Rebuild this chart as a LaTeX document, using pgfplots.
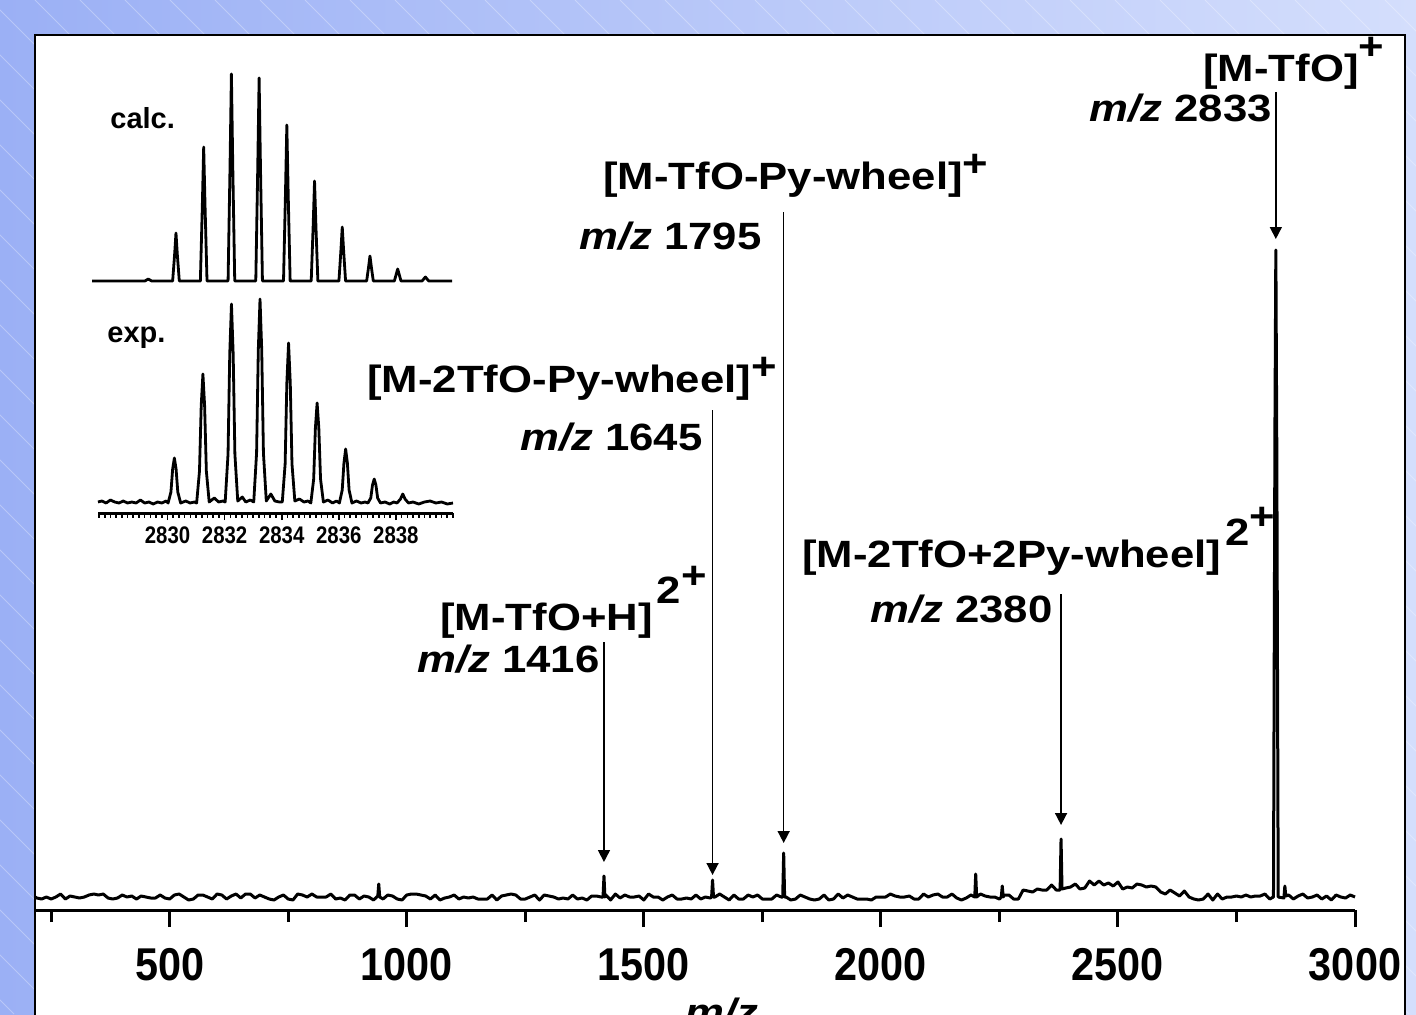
\documentclass[border=0pt]{standalone}
\usepackage{fontspec}
\setmainfont{Liberation Sans}
\newfontfamily\labfont{Liberation Sans}[FakeStretch=1.15]
\newfontfamily\tickfont{Liberation Sans}[FakeStretch=0.9]
\newfontfamily\insetfont{Liberation Sans}[FakeStretch=0.85]
\usepackage{pgfplots}
\pgfplotsset{compat=1.18}
\usetikzlibrary{arrows.meta}
\definecolor{bgleft}{RGB}{155,176,245}
\definecolor{bgright}{RGB}{212,222,252}

\newcommand{\lab}{\labfont\bfseries\fontsize{19}{19}\selectfont}
\newcommand{\mz}[1]{\textit{m/z}\ #1}

\begin{document}
\begin{tikzpicture}
\useasboundingbox (0,0) rectangle (708pt,507pt);
\clip (0,0) rectangle (708pt,507pt);
\shade[left color=bgleft, right color=bgright] (0,0) rectangle (708pt,507pt);
% pixel frame: (X,Y) as in the 1416x1014 picture
\begin{scope}[x=0.5pt,y=-0.5pt,shift={(0,507pt)}]
  \foreach \i in {-1000,-955,...,1416}
    \draw[white, opacity=0.3, line width=0.5pt] (\i,0) -- (\i+1014,1014);
  \fill[white] (35,35) rectangle (1405,1040);
\end{scope}

% main spectrum
\begin{axis}[
  at={(17.5pt,52pt)}, anchor=south west,
  scale only axis, width=660pt, height=437.5pt,
  xmin=216, xmax=3000, ymin=-13, ymax=862,
  axis x line*=bottom, axis y line=none,
  x axis line style={line width=1.5pt,-},
  xtick={500,1000,...,3000},
  minor xtick={250,750,...,2750},
  tick align=outside,
  major tick length=8.5pt, minor tick length=6pt,
  tick style={black,line width=1.5pt},
  xticklabel style={font=\tickfont\bfseries\fontsize{23}{23}\selectfont, yshift=-7pt},
  /pgf/number format/assume math mode=true,
  /pgf/number format/1000 sep={},
  clip=false,
]
\addplot[black, line width=1.5pt, line join=round] coordinates {
(216,0)(220,-1)(230,-2)(240,0)(250,-2)(260,0)(270,3)(280,-2)(290,1)(300,0)(310,-1)
(320,0)(330,2)(340,3)(350,2)(360,3)(370,-1)(380,-2)(390,-1)(400,2)(410,0)
(420,1)(430,-2)(440,1)(450,0)(460,-1)(470,-1)(480,2)(490,-1)(500,-2)(510,2)
(520,3)(530,0)(540,-3)(550,-2)(560,2)(570,2)(580,0)(590,-2)(600,3)(610,2)
(620,-2)(630,1)(640,3)(650,-1)(660,3)(670,3)(680,-1)(690,2)(700,0)(710,-2)
(720,-3)(730,0)(740,2)(750,-2)(760,-3)(770,3)(780,2)(790,0)(800,3)(810,0)
(820,0)(830,0)(840,3)(850,-2)(860,-1)(870,-3)(880,2)(890,2)(900,-2)(910,1)
(920,0)(930,-3)(939,1)(941,13)(943,0)(950,-2)(960,2)(970,1)(980,-2)(990,-3)
(1000,2)(1010,3)(1020,3)(1030,2)(1040,1)(1050,-2)(1060,2)(1070,-3)(1080,-1)(1090,0)
(1100,2)(1110,-2)(1120,0)(1130,-1)(1140,0)(1150,-2)(1160,-2)(1170,-2)(1180,2)(1190,-3)
(1200,1)(1210,2)(1220,3)(1230,2)(1240,-2)(1250,-2)(1260,0)(1270,2)(1280,-3)(1290,2)
(1300,1)(1310,0)(1320,-2)(1330,-1)(1340,-2)(1350,2)(1360,-2)(1370,-1)(1380,-3)(1390,1)
(1400,1)(1410,0)(1414,0)(1416,21)(1418,0)(1420,2)(1430,-3)(1440,3)(1450,-1)(1460,2)
(1470,0)(1480,0)(1490,1)(1500,-3)(1510,3)(1520,0)(1530,0)(1540,-3)(1550,0)(1560,2)
(1570,-2)(1580,-2)(1590,-1)(1600,-2)(1610,2)(1620,-2)(1630,0)(1640,-1)(1643,0)(1645,17)
(1647,0)(1650,0)(1660,3)(1670,0)(1680,-3)(1690,2)(1700,-2)(1710,-2)(1720,2)(1730,0)
(1740,2)(1750,-2)(1760,-2)(1770,-2)(1780,2)(1790,0)(1793,0)(1795,44)(1797,0)(1800,0)
(1810,-3)(1820,-2)(1830,2)(1840,0)(1850,-2)(1860,-3)(1870,-2)(1880,2)(1890,-3)(1900,-2)
(1910,3)(1920,-1)(1930,2)(1940,0)(1950,-2)(1960,-2)(1970,-2)(1980,-3)(1990,0)(2000,0)
(2010,0)(2020,3)(2030,1)(2040,0)(2050,0)(2060,1)(2070,-2)(2080,-2)(2090,3)(2100,0)
(2110,2)(2120,3)(2130,0)(2140,0)(2150,3)(2160,-1)(2170,-3)(2180,-1)(2190,2)(2198,0)
(2200,23)(2202,0)(2210,3)(2220,1)(2230,0)(2240,0)(2250,-2)(2254,0)(2256,11)(2258,0)
(2260,2)(2270,2)(2280,-2)(2290,-2)(2300,7)(2310,6)(2320,5)(2330,8)(2340,7)(2350,7)
(2360,12)(2370,7)(2378,7)(2380,58)(2382,8)(2390,9)(2400,10)(2410,13)(2420,8)(2430,9)
(2440,16)(2450,12)(2460,16)(2470,12)(2480,14)(2490,11)(2500,15)(2510,8)(2520,10)(2530,9)
(2540,13)(2550,12)(2560,10)(2570,11)(2580,10)(2590,5)(2600,3)(2610,7)(2620,4)(2630,1)
(2640,6)(2650,0)(2660,-2)(2670,-3)(2680,-2)(2690,3)(2700,-3)(2710,3)(2720,-2)(2730,0)
(2740,0)(2750,1)(2760,0)(2770,2)(2780,0)(2790,1)(2800,1)(2810,3)(2820,-2)(2828,0)
(2830,300)(2831,460)(2833,647)(2835,450)(2836,300)(2838,0)(2850,-1)(2852,11)(2854,1)(2860,2)
(2870,-2)(2880,1)(2890,3)(2900,-1)(2910,0)(2920,2)(2930,-2)(2940,1)(2950,-3)(2960,2)
(2970,0)(2980,-1)(2990,2)(3000,0)
};
\draw[-{Triangle[width=6pt,length=6pt]}, line width=0.8pt] (axis cs:1416,255) -- (axis cs:1416,35);
\draw[-{Triangle[width=6pt,length=6pt]}, line width=0.8pt] (axis cs:1645,487) -- (axis cs:1645,22);
\draw[-{Triangle[width=6pt,length=6pt]}, line width=0.8pt] (axis cs:1795,685) -- (axis cs:1795,54);
\draw[-{Triangle[width=6pt,length=6pt]}, line width=0.8pt] (axis cs:2380,303) -- (axis cs:2380,72);
\draw[-{Triangle[width=6pt,length=6pt]}, line width=0.8pt] (axis cs:2833,805) -- (axis cs:2833,658);
\end{axis}

% inset: calculated pattern
\begin{axis}[
  at={(46pt,366.5pt)}, anchor=south west,
  scale only axis, width=180pt, height=105pt,
  xmin=2827.27, xmax=2840.26, ymin=0, ymax=210,
  hide axis, clip=false,
]
\addplot[black, line width=1.4pt, line join=round] coordinates {
(2827.27,0)
(2829.18,0)(2829.3,2)(2829.42,0)
(2830.18,0)(2830.25,26)(2830.3,48)(2830.35,26)(2830.42,0)
(2831.18,0)(2831.25,74)(2831.3,134)(2831.35,74)(2831.42,0)
(2832.18,0)(2832.25,114)(2832.3,207)(2832.35,114)(2832.42,0)
(2833.18,0)(2833.25,112)(2833.3,203)(2833.35,112)(2833.42,0)
(2834.18,0)(2834.25,86)(2834.3,156)(2834.35,86)(2834.42,0)
(2835.18,0)(2835.25,55)(2835.3,100)(2835.35,55)(2835.42,0)
(2836.18,0)(2836.25,30)(2836.3,54)(2836.35,30)(2836.42,0)
(2837.18,0)(2837.25,14)(2837.3,25)(2837.35,14)(2837.42,0)
(2838.18,0)(2838.3,12)(2838.42,0)
(2839.18,0)(2839.3,4)(2839.42,0)
(2840.26,0)
};
\end{axis}

% inset: experimental pattern
\begin{axis}[
  at={(49pt,250.5pt)}, anchor=south west,
  scale only axis, width=177.5pt, height=109.5pt,
  xmin=2827.565, xmax=2840.0, ymin=-9, ymax=210,
  axis x line*=bottom, axis y line=none,
  x axis line style={line width=1.5pt,-},
  xtick={2830,2832,...,2838},
  minor xtick={2827.6,2827.8,...,2840},
  tick align=outside,
  major tick length=3.5pt, minor tick length=2.4pt,
  tick style={black,line width=0.8pt},
  xticklabel style={font=\insetfont\bfseries\fontsize{12}{12}\selectfont},
  /pgf/number format/assume math mode=true,
  /pgf/number format/1000 sep={},
  clip=false,
]
\addplot[black, line width=1.4pt, line join=round] coordinates {
(2827.565,2)(2827.7,3)(2827.85,1)(2828.0,4)(2828.15,2)(2828.3,1)(2828.45,3)(2828.6,1)(2828.75,2)(2828.9,1)(2829.05,4)(2829.2,1)(2829.35,2)(2829.5,0)(2829.65,2)(2829.8,1)(2829.95,3)
(2830.02,1)(2830.12,12)(2830.18,35)(2830.24,46)(2830.30,35)(2830.36,12)(2830.46,1)(2830.64,3)(2830.79,1)(2830.94,2)
(2831.02,1)(2831.12,33)(2831.18,98)(2831.24,130)(2831.30,98)(2831.36,33)(2831.46,2)(2831.64,6)(2831.79,2)(2831.94,3)
(2832.02,2)(2832.12,50)(2832.18,150)(2832.24,200)(2832.30,150)(2832.36,50)(2832.46,3)(2832.62,7)(2832.74,2)(2832.9,4)
(2833.02,2)(2833.12,51)(2833.18,154)(2833.24,205)(2833.30,154)(2833.36,51)(2833.46,3)(2833.62,10)(2833.76,3)(2833.92,2)
(2834.02,2)(2834.12,40)(2834.18,121)(2834.24,161)(2834.30,121)(2834.36,40)(2834.46,3)(2834.62,5)(2834.78,2)(2834.92,3)
(2835.02,1)(2835.12,25)(2835.18,76)(2835.24,101)(2835.30,76)(2835.36,25)(2835.46,2)(2835.62,4)(2835.78,1)(2835.92,3)
(2836.02,1)(2836.12,14)(2836.18,41)(2836.24,55)(2836.30,41)(2836.36,14)(2836.46,1)(2836.62,3)(2836.78,1)(2836.92,2)
(2837.02,1)(2837.12,6)(2837.18,19)(2837.24,25)(2837.30,19)(2837.36,6)(2837.46,1)(2837.62,2)(2837.78,0)(2837.92,2)
(2838.04,1)(2838.16,5)(2838.24,10)(2838.32,5)(2838.44,1)(2838.6,2)(2838.8,0)(2839.0,2)(2839.2,3)(2839.4,1)(2839.6,2)(2839.8,0)(2840.0,1)
};
\end{axis}

\begin{scope}[x=0.5pt,y=-0.5pt,shift={(0,507pt)}]
  \tikzset{every node/.style={inner sep=0pt}}
  \node[anchor=base west] at (110,129) {\bfseries\fontsize{14.5}{14.5}\selectfont calc.};
  \node[anchor=base west] at (107,342) {\bfseries\fontsize{14.5}{14.5}\selectfont exp.};
  \node[anchor=base west] at (440,630) {\lab [M-TfO+H]\hspace{2pt}\raisebox{13.5pt}{2}\raisebox{21pt}{+}};
  \node[anchor=base east] at (600,672) {\lab\mz{1416}};
  \node[anchor=base west] at (367,392) {\lab [M-2TfO-Py-wheel]\raisebox{6.3pt}{+}};
  \node[anchor=base east] at (703,450) {\lab\mz{1645}};
  \node[anchor=base west] at (603,190) {\lab [M-TfO-Py-wheel]\raisebox{6.8pt}{+}};
  \node[anchor=base east] at (762,250) {\lab\mz{1795}};
  \node[anchor=base west] at (802,567) {\lab [M-2TfO+2Py-wheel]\hspace{2pt}\raisebox{11pt}{2}\raisebox{19pt}{+}};
  \node[anchor=base east] at (1053,622) {\lab\mz{2380}};
  \node[anchor=base west] at (1203,82) {\lab [M-TfO]\raisebox{11.3pt}{+}};
  \node[anchor=base east] at (1272,122) {\lab\mz{2833}};
  \node[anchor=base] at (722,1025) {\lab\itshape m/z};
  \draw[black, line width=1pt] (35,35) rectangle (1405,1040);
\end{scope}
\end{tikzpicture}
\end{document}
